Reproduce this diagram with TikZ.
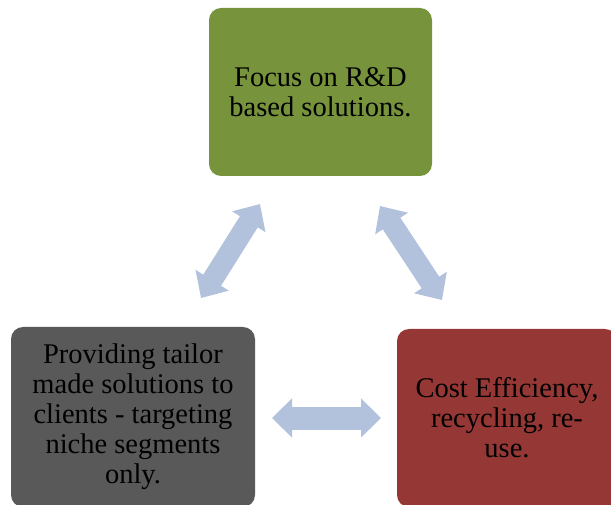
\documentclass[tikz,border=0pt]{standalone}
\usepackage{fontspec}
\setmainfont{Liberation Serif}
\usepackage{xcolor}
\usetikzlibrary{positioning}
\usetikzlibrary{arrows.meta}

\definecolor{rdgreen}{HTML}{77933C}
\definecolor{tailorgrey}{HTML}{595959}
\definecolor{costred}{HTML}{953735}
\definecolor{linkblue}{HTML}{B2C2DC}

\begin{document}
\begin{tikzpicture}[x=1pt, y=-1pt, node distance=1cm, on grid,
      box/.style={rounded corners=12pt, inner sep=0pt, align=center, text=black,
        font=\fontsize{28.5}{30}\selectfont},
      link/.style={draw=linkblue, line width=21pt,
        {Triangle[width=38pt,length=21pt]}-{Triangle[width=38pt,length=21pt]}},
      wide/.style={line width=23pt,
        {Triangle[width=38pt,length=20pt]}-{Triangle[width=38pt,length=20pt]}}]

      \useasboundingbox (0,0) rectangle (611,505);
      \clip (0,0) rectangle (611,505);

      \node[box, fill=rdgreen, minimum width=223pt, minimum height=168pt] (rd) at (320.5,92)
        {Focus on R\&D\\based solutions.};
      \node[box, fill=tailorgrey, minimum width=244pt, minimum height=180pt] (tailor)
        [below left=325pt and 187.5pt of rd]
        {Providing tailor\\made solutions to\\clients - targeting\\niche segments\\only.};
      \node[box, fill=costred, minimum width=220pt, minimum height=178pt] (cost)
        [right=374pt of tailor, yshift=-1pt]
        {Cost Efficiency,\\recycling, re-\\use.};

      % free ends of the block arrows
      \coordinate (l0) at (201,298);
      \coordinate (l1) at (260,204);
      \coordinate (r0) at (380,206);
      \coordinate (r1) at (442,300);
      \coordinate (b0) at (272,418);
      \coordinate (b1) at (381,418);

      \draw[link] (l0) -- (l1);
      \draw[link] (r0) -- (r1);
      \draw[link, wide] (b0) -- (b1);

\end{tikzpicture}
\end{document}
